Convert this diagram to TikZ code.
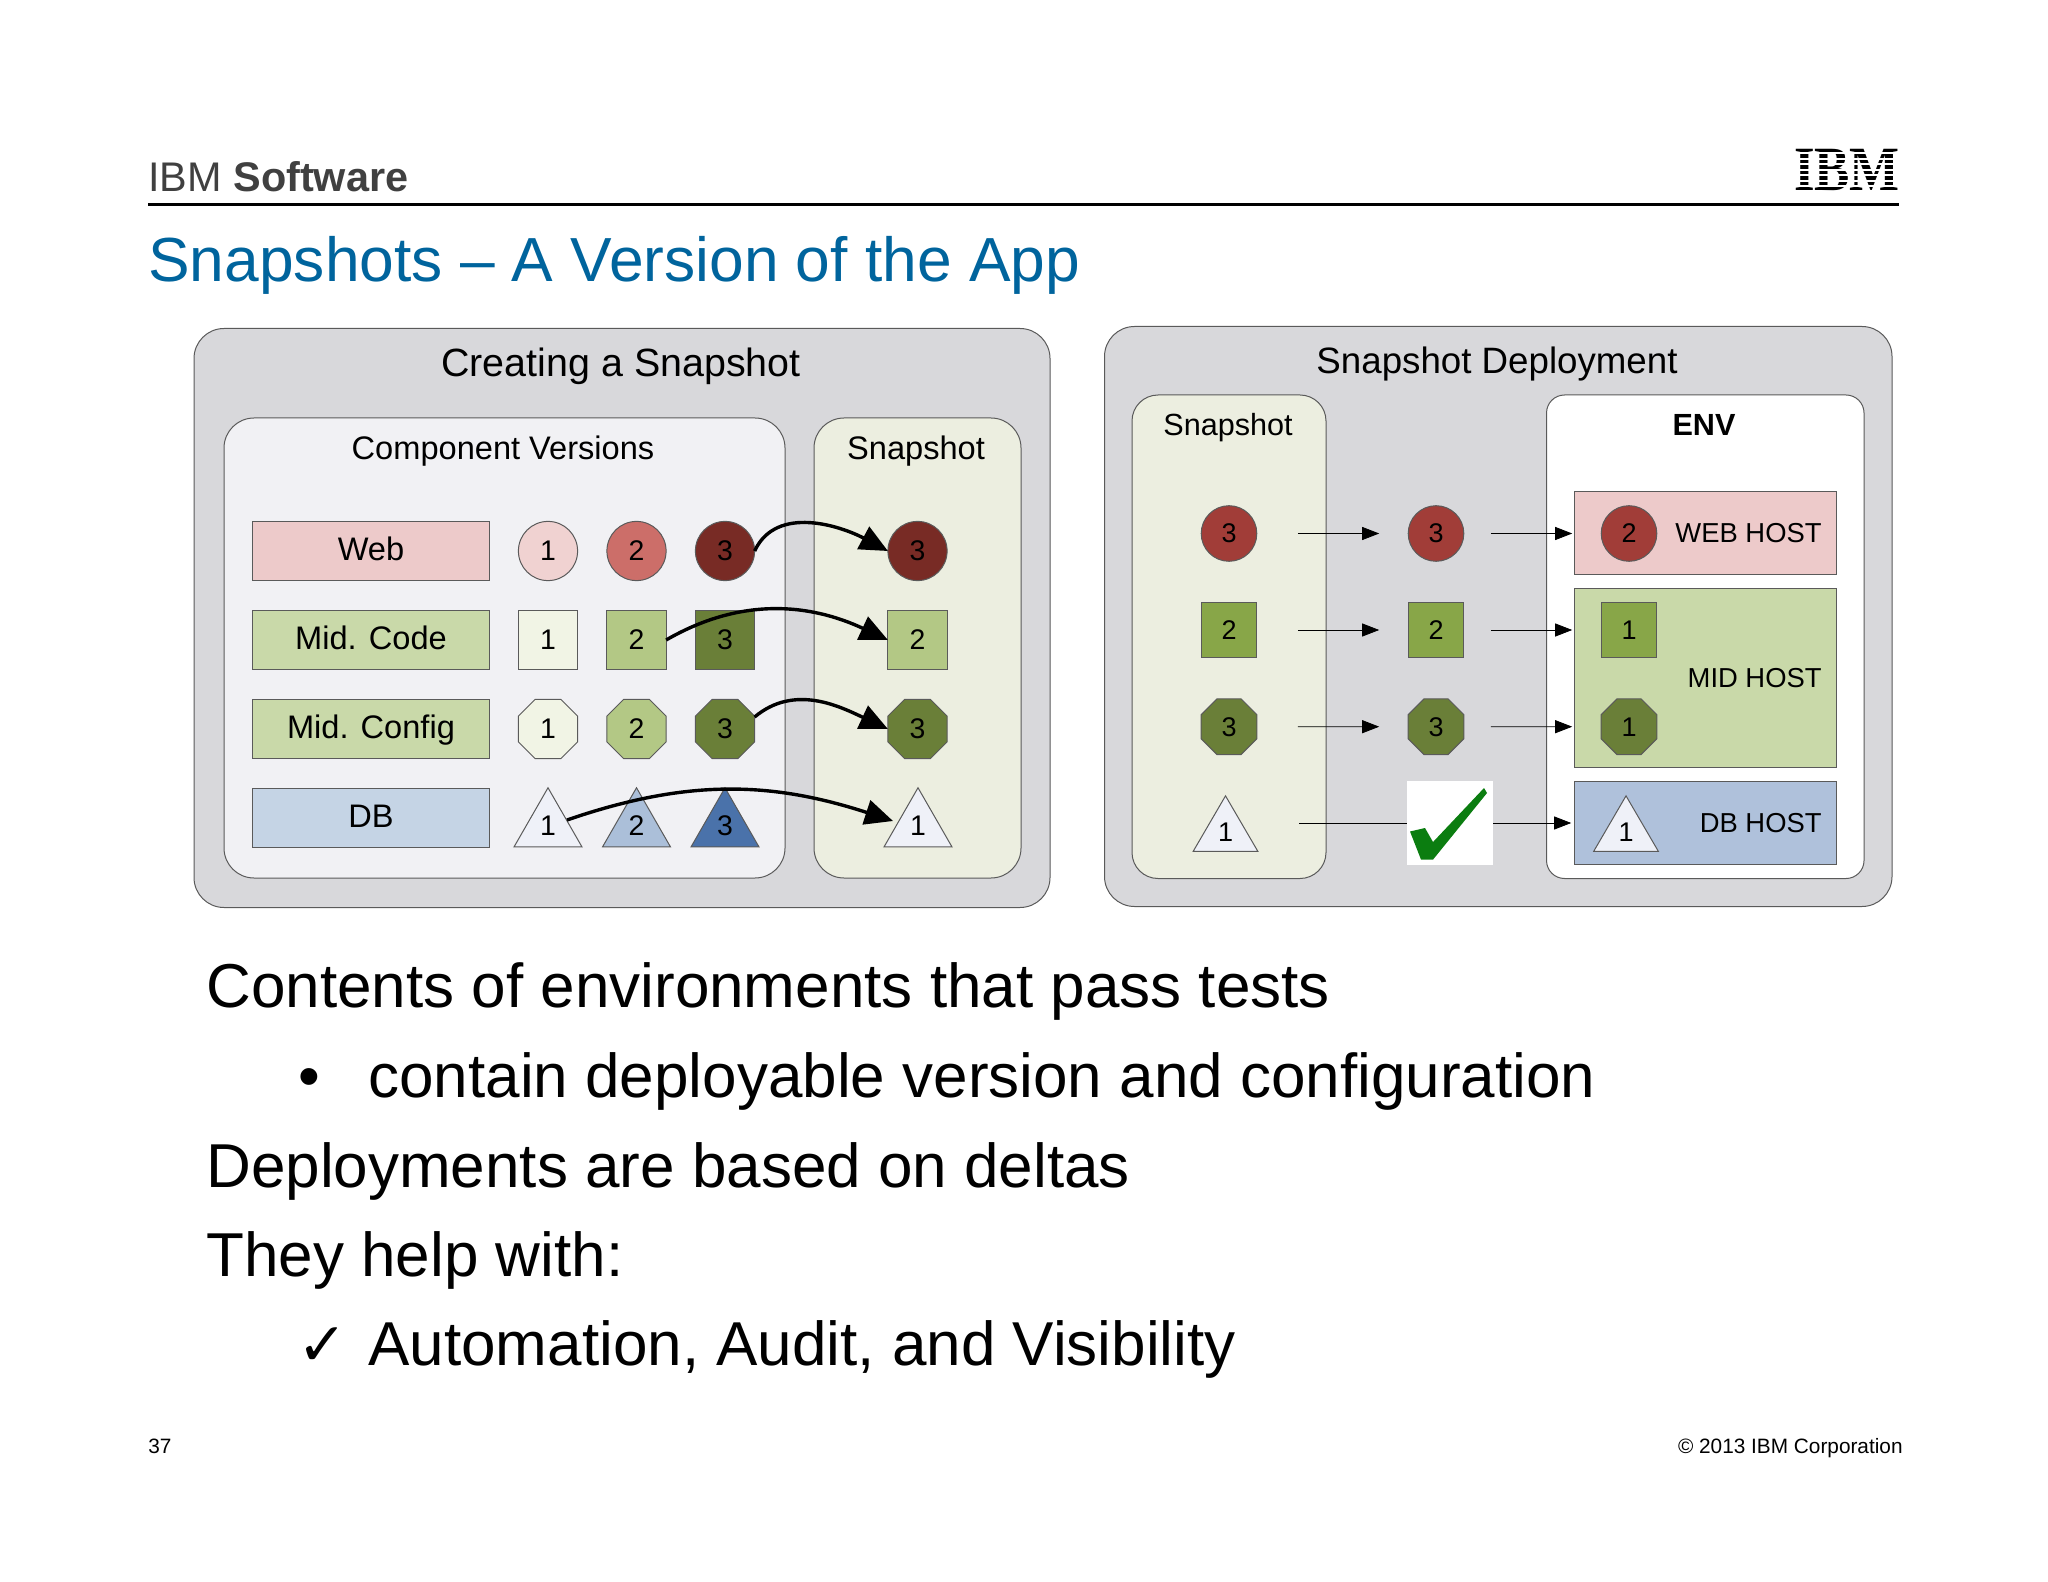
\documentclass[tikz,border=0pt]{standalone}
\usepackage{fontspec}
\setmainfont{Liberation Sans}
\newfontfamily\logofont[FakeStretch=0.84]{Liberation Serif}
\newfontfamily\checkfont{DejaVu Sans}
\usetikzlibrary{arrows.meta, calc, shapes.geometric, shapes.misc}
\definecolor{panelGray}{HTML}{D8D8DB}
\definecolor{versionsGray}{HTML}{F1F1F4}
\definecolor{snapGreen}{HTML}{ECEEE0}
\definecolor{edgeGray}{HTML}{5A5A5A}
\definecolor{titleBlue}{HTML}{00649D}
\definecolor{webPale}{HTML}{F0D2D1}
\definecolor{webMid}{HTML}{CC6E69}
\definecolor{webDark}{HTML}{782B25}
\definecolor{webHost}{HTML}{EDCACA}
\definecolor{webRed}{HTML}{A13D38}
\definecolor{midPale}{HTML}{F1F4E5}
\definecolor{midLight}{HTML}{B3C885}
\definecolor{midDark}{HTML}{6A7F38}
\definecolor{midHost}{HTML}{C9D9A9}
\definecolor{midGreen}{HTML}{88A648}
\definecolor{dbPale}{HTML}{EFF1F8}
\definecolor{dbLight}{HTML}{ABBFD9}
\definecolor{dbDark}{HTML}{4A72AA}
\definecolor{dbBox}{HTML}{C5D4E5}
\definecolor{dbHost}{HTML}{AFC1DB}
\definecolor{checkGreen}{HTML}{0B7D10}

\begin{document}
\begin{tikzpicture}[x=0.5pt, y=-0.5pt,
    shapeEdge/.style={draw=edgeGray, line width=0.5pt, inner sep=0pt, outer sep=0pt, text height=9.5pt, text depth=0pt},
    panel/.style={draw=edgeGray, line width=0.5pt, rounded corners=15pt},
    headText/.style={anchor=base, inner sep=0pt, font=\fontsize{19.7pt}{22pt}\selectfont},
    subText/.style={anchor=base, inner sep=0pt, font=\fontsize{16.3pt}{18pt}\selectfont},
    bodyText/.style={anchor=base west, inner sep=0pt, font=\fontsize{31pt}{36pt}\selectfont},
    hostText/.style={anchor=east, inner sep=0pt, text height=9.5pt, text depth=0pt, font=\fontsize{13.7pt}{16pt}\selectfont},
    versionBox/.style={shapeEdge, minimum width=118.2pt, minimum height=29.8pt, font=\fontsize{16.3pt}{18pt}\selectfont},
    hostBox/.style={shapeEdge, minimum width=131pt},
    ball/.style={shapeEdge, circle, minimum size=29.6pt, font=\fontsize{14.2pt}{16pt}\selectfont},
    tile/.style={shapeEdge, rectangle, minimum size=29.6pt, font=\fontsize{14.2pt}{16pt}\selectfont},
    octa/.style={shapeEdge, chamfered rectangle, chamfered rectangle xsep=4.4pt, chamfered rectangle ysep=4.4pt, minimum size=29.6pt, font=\fontsize{14.2pt}{16pt}\selectfont},
    wedge/.style={shapeEdge, isosceles triangle, isosceles triangle stretches, shape border rotate=90, minimum width=34pt, minimum height=29.6pt, text height=5.5pt, font=\fontsize{14.2pt}{16pt}\selectfont},
    ballSmall/.style={ball, minimum size=27.8pt, font=\fontsize{13.5pt}{16pt}\selectfont},
    tileSmall/.style={tile, minimum size=27.8pt, font=\fontsize{13.5pt}{16pt}\selectfont},
    octaSmall/.style={octa, chamfered rectangle xsep=4.1pt, chamfered rectangle ysep=4.1pt, minimum size=27.8pt, font=\fontsize{13.5pt}{16pt}\selectfont},
    wedgeSmall/.style={wedge, minimum width=32.4pt, minimum height=27.8pt, text height=6.5pt, font=\fontsize{13.5pt}{16pt}\selectfont},
    takeArrow/.style={line width=1.7pt, -{Triangle[length=14pt, width=12.5pt]}},
    flowArrow/.style={line width=0.4pt, -{Triangle[length=8.5pt, width=6.5pt]}}]
    \useasboundingbox (0,0) rectangle (2048,1582);

    % header
    \node (brand) [anchor=base west, inner sep=0pt, text=black!75, font=\fontsize{20.7pt}{22pt}\selectfont] at (148,192) {IBM \textbf{Software}};
    \node (logo) [anchor=base, inner sep=0pt, font=\logofont\bfseries\fontsize{31.5pt}{36pt}\selectfont] at (1847,191) {IBM};
    \draw[white, line width=1pt] (1790,153.5)--(1904,153.5) (1790,159)--(1904,159) (1790,164.5)--(1904,164.5) (1790,170)--(1904,170) (1790,175.5)--(1904,175.5) (1790,181)--(1904,181) (1790,186.5)--(1904,186.5);
    \draw[line width=1.2pt] (148,204.5)--(1899,204.5);
    \node (title) [anchor=base west, inner sep=0pt, text=titleBlue, font=\fontsize{31.15pt}{34pt}\selectfont] at (148,282) {Snapshots – A Version of the App};

    % left panel
    \draw[panel, fill=panelGray] (194,328.5) rectangle (1050,907.5);
    \draw[panel, fill=versionsGray] (224,418) rectangle (785,878);
    \draw[panel, fill=snapGreen] (814,418) rectangle (1021,878);
    \node (creating) [headText] at (621,377) {Creating a Snapshot};
    \node (versions) [subText] at (503,460) {Component Versions};
    \node (snapLeft) [subText] at (916,460) {Snapshot};

    \node (webBox) [versionBox, fill=webHost] at (371,551) {Web};
    \node (codeBox) [versionBox, fill=midHost] at (371,640) {Mid. Code};
    \node (configBox) [versionBox, fill=midHost] at (371,729) {Mid. Config};
    \node (dbaseBox) [versionBox, fill=dbBox] at (371,818) {DB};

    \node (web1) [ball, fill=webPale] at (548,551) {1};
    \node (web2) [ball, fill=webMid] at (636.5,551) {2};
    \node (web3) [ball, fill=webDark] at (725,551) {3};
    \node (webSnap) [ball, fill=webDark] at (917.5,551) {3};

    \node (code1) [tile, fill=midPale] at (548,640) {1};
    \node (code2) [tile, fill=midLight] at (636.5,640) {2};
    \node (code3) [tile, fill=midDark] at (725,640) {3};
    \node (codeSnap) [tile, fill=midLight] at (917.5,640) {2};

    \node (config1) [octa, fill=midPale] at (548,729) {1};
    \node (config2) [octa, fill=midLight] at (636.5,729) {2};
    \node (config3) [octa, fill=midDark] at (725,729) {3};
    \node (configSnap) [octa, fill=midDark] at (917.5,729) {3};

    \node (db1) [wedge, fill=dbPale] at (548,830) {1};
    \node (db2) [wedge, fill=dbLight] at (636.5,830) {2};
    \node (db3) [wedge, fill=dbDark] at (725,830) {3};
    \node (dbSnap) [wedge, fill=dbPale] at (918,830) {1};

    \draw[takeArrow] (web3.east) to[out=65, in=152] (webSnap.west);
    \draw[takeArrow] (code2.east) to[out=30, in=155] (codeSnap.west);
    \draw[takeArrow] ([yshift=6pt]config3.east) to[out=40, in=155] (configSnap.west);
    \draw[takeArrow] ($(db1.center)+(19,-10)$) to[out=19, in=162] ($(dbSnap.center)+(-25,-9)$);

    % right panel
    \draw[panel, fill=panelGray] (1104.5,326.5) rectangle (1892,906.5);
    \draw[panel, fill=snapGreen, rounded corners=13pt] (1132,395) rectangle (1326,878.5);
    \draw[panel, fill=white, rounded corners=9pt] (1546.5,395) rectangle (1864,878.5);
    \node (deployment) [anchor=base, inner sep=0pt, font=\fontsize{18.35pt}{20pt}\selectfont] at (1497,373.5) {Snapshot Deployment};
    \node (snapRight) [anchor=base, inner sep=0pt, font=\fontsize{15.3pt}{18pt}\selectfont] at (1228,436) {Snapshot};
    \node (env) [anchor=base, inner sep=0pt, font=\bfseries\fontsize{15.3pt}{18pt}\selectfont] at (1704,436) {ENV};

    \node (webHostBox) [hostBox, fill=webHost, minimum height=41.5pt] at (1705,533.5) {};
    \node (midHostBox) [hostBox, fill=midHost, minimum height=89.5pt] at (1705,678.2) {};
    \node (dbHostBox) [hostBox, fill=dbHost, minimum height=41.6pt] at (1705,823) {};
    \node (webHostText) [hostText] at (1822,533.5) {WEB HOST};
    \node (midHostText) [hostText] at (1822,678) {MID HOST};
    \node (dbHostText) [hostText] at (1822,823) {DB HOST};

    \node (snapWeb) [ballSmall, fill=webRed] at (1229,533.5) {3};
    \node (snapCode) [tileSmall, fill=midGreen] at (1229,630) {2};
    \node (snapConfig) [octaSmall, fill=midDark] at (1229,726.7) {3};
    \node (snapDb) [wedgeSmall, fill=dbPale] at (1225.5,835) {1};

    \node (passWeb) [ballSmall, fill=webRed] at (1436,533.5) {3};
    \node (passCode) [tileSmall, fill=midGreen] at (1436,630) {2};
    \node (passConfig) [octaSmall, fill=midDark] at (1436,726.7) {3};
    \node (passDb) [shapeEdge, draw=none, fill=white, minimum width=43pt, minimum height=41.6pt] at (1450,823) {};
    \fill[checkGreen] (1410,831.5)--(1425,828)--(1433,842)--(1484,788)--(1487,793)--(1433,859.6)--(1421,859.6)--cycle;

    \node (hostWeb) [ballSmall, fill=webRed] at (1629,533.5) {2};
    \node (hostCode) [tileSmall, fill=midGreen] at (1629,630) {1};
    \node (hostConfig) [octaSmall, fill=midDark] at (1629,726.7) {1};
    \node (hostDb) [wedgeSmall, fill=dbPale] at (1626,835) {1};

    \draw[flowArrow, shorten <=20.5pt, shorten >=14.5pt] (snapWeb)--(passWeb);
    \draw[flowArrow, shorten <=20.5pt, shorten >=14.5pt] (snapCode)--(passCode);
    \draw[flowArrow, shorten <=20.5pt, shorten >=14.5pt] (snapConfig)--(passConfig);
    \draw[line width=0.4pt, shorten <=25.5pt] (snapDb.east |- passDb.west)--(passDb.west);
    \draw[flowArrow, shorten <=13.5pt, shorten >=14.5pt] (passWeb)--(hostWeb);
    \draw[flowArrow, shorten <=13.5pt, shorten >=14.5pt] (passCode)--(hostCode);
    \draw[flowArrow, shorten <=13.5pt, shorten >=14.5pt] (passConfig)--(hostConfig);
    \draw[flowArrow, shorten >=16pt] (passDb.east)--(passDb.east -| hostDb.west);

    % body text
    \node (line1) [bodyText] at (206,1007.5) {Contents of environments that pass tests};
    \node (bullet) [anchor=base, inner sep=0pt, font=\fontsize{31pt}{36pt}\selectfont] at (309,1097.5) {•};
    \node (line2) [bodyText] at (368,1097.5) {contain deployable version and configuration};
    \node (line3) [bodyText] at (206,1187) {Deployments are based on deltas};
    \node (line4) [bodyText] at (206,1276) {They help with:};
    \node (tick) [anchor=base, inner sep=0pt, font=\checkfont\bfseries\fontsize{30pt}{34pt}\selectfont] at (323,1365) {✓};
    \node (line5) [bodyText] at (368,1365) {Automation, Audit, and Visibility};

    % footer
    \node (pageNum) [anchor=base west, inner sep=0pt, font=\fontsize{10.4pt}{12pt}\selectfont] at (148,1453) {37};
    \node (copy) [anchor=base east, inner sep=0pt, font=\fontsize{10.4pt}{12pt}\selectfont] at (1903,1453) {© 2013 IBM Corporation};
\end{tikzpicture}
\end{document}
